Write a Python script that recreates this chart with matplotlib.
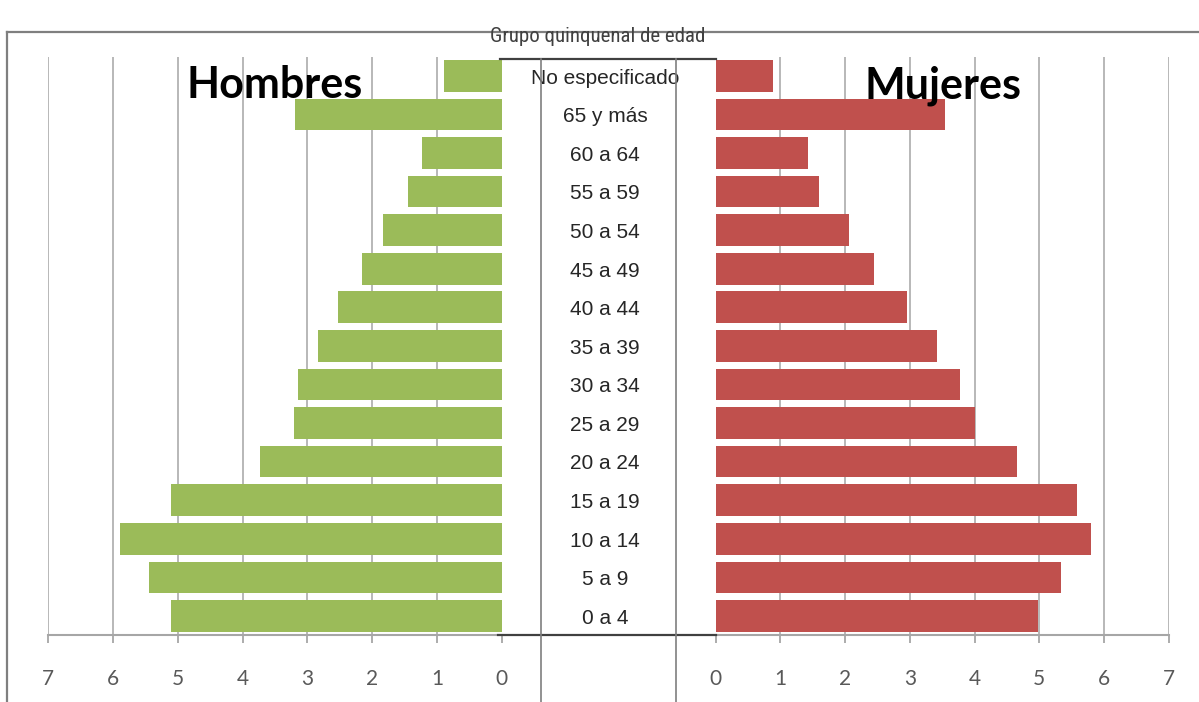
import numpy as np
import matplotlib.pyplot as plt
import matplotlib.transforms as mtransforms
from matplotlib import font_manager
from matplotlib.lines import Line2D

plt.rcParams['font.family'] = ['Lato', 'DejaVu Sans']

# Grupos de edad, de abajo hacia arriba
categorias = ['0 a 4', '5 a 9', '10 a 14', '15 a 19', '20 a 24', '25 a 29',
              '30 a 34', '35 a 39', '40 a 44', '45 a 49', '50 a 54',
              '55 a 59', '60 a 64', '65 y más', 'No especificado']
# Porcentaje de la población
hombres = [5.11, 5.44, 5.89, 5.11, 3.73, 3.20, 3.14, 2.83, 2.52, 2.15,
           1.83, 1.44, 1.23, 3.19, 0.89]
mujeres = [4.98, 5.34, 5.80, 5.58, 4.66, 4.00, 3.78, 3.42, 2.95, 2.45,
           2.06, 1.60, 1.42, 3.55, 0.88]
marcas = list(range(8))

verde = '#9BBB59'
rojo = '#C0504D'

W, H = 1199, 702
fig = plt.figure(figsize=(W / 100, H / 100), dpi=100)


def fx(px):
    return px / W


def fy(py):
    return 1 - py / H


# fuente angosta para el título, la primera que exista
nombres = {f.name for f in font_manager.fontManager.ttflist}
angosta = 'DejaVu Sans'
for cand in ['Liberation Sans Narrow', 'Roboto Condensed', 'Open Sans Condensed',
             'Noto Sans Condensed', 'Noto Sans ExtraCondensed',
             'DejaVu Sans Condensed']:
    if cand in nombres:
        angosta = cand
        break

alto = (635.3 - 56.5) / H
ax_h = fig.add_axes([fx(48.3), fy(635.3), fx(501.7 - 48.3), alto])
ax_m = fig.add_axes([fx(715.7), fy(635.3), fx(1168.6 - 715.7), alto])

y = np.arange(len(categorias))
for ax, vals, color in ((ax_h, hombres, verde), (ax_m, mujeres, rojo)):
    ax.barh(y, vals, height=0.82, color=color, zorder=3)
    ax.set_xlim(0, 7)
    ax.set_ylim(-0.5, len(categorias) - 0.5)
    ax.set_xticks(marcas)
    ax.set_xticklabels([str(m) for m in marcas])
    ax.set_yticks([])
    for s in ('top', 'left', 'right'):
        ax.spines[s].set_visible(False)
    ax.spines['bottom'].set_color('#a6a6a6')
    ax.spines['bottom'].set_linewidth(1.5)
    ax.tick_params(axis='x', length=6, width=1.3, color='#a6a6a6', pad=18,
                   labelsize=15, labelcolor='#595959')
    for v in marcas[1:]:
        ax.axvline(v, color='#b8b8b8', lw=1.4, zorder=1)
    ax.patch.set_alpha(0)
ax_h.invert_xaxis()

# Etiquetas de los grupos en la columna central
trans = mtransforms.blended_transform_factory(fig.transFigure, ax_h.transData)
for yi, cat in zip(y, categorias):
    ax_h.text(fx(605), yi - 0.06, cat, transform=trans, ha='center',
              va='center', fontsize=15, family='Liberation Sans',
              color='#262626', clip_on=False)

# Líneas de la columna central y marco
lineas = [
    ([fx(498), fx(715.7)], [fy(635.3)] * 2, '#404040', 1.6),
    ([fx(500), fx(715.7)], [fy(59)] * 2, '#404040', 1.6),
    ([fx(541)] * 2, [fy(59), 0], '#7f7f7f', 1.2),
    ([fx(676)] * 2, [fy(59), 0], '#7f7f7f', 1.2),
    ([fx(7), 1], [fy(32)] * 2, '#7f7f7f', 1.6),
    ([fx(7)] * 2, [fy(32), 0], '#7f7f7f', 1.6),
]
for xs, ys, c, lw in lineas:
    fig.add_artist(Line2D(xs, ys, color=c, lw=lw))

fig.text(fx(598), fy(36), 'Grupo quinquenal de edad', ha='center',
         va='center', fontsize=15, family=angosta, fontstretch='condensed',
         color='#404040')

fig.text(fx(275), fy(98), 'Hombres', ha='center', va='baseline',
         fontsize=31, fontweight='bold', color='black')
fig.text(fx(943), fy(98), 'Mujeres', ha='center', va='baseline',
         fontsize=31, fontweight='bold', color='black')

fig.savefig('out.png', dpi=100)
